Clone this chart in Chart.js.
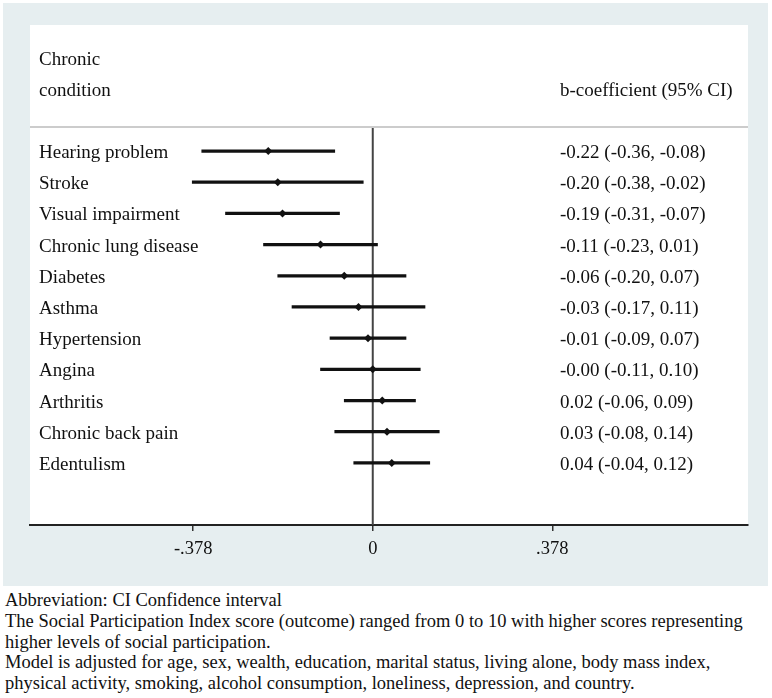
<!DOCTYPE html>
<html>
<head>
<meta charset="utf-8">
<script src="https://cdn.jsdelivr.net/npm/chart.js@4.4.1/dist/chart.umd.min.js"></script>
<style>
    body { margin: 0; background: #fff; font-family: "Liberation Serif", "Times New Roman", serif; color: #111; }
    #wrap { position: relative; width: 772px; height: 698px; }
    #panel { position: absolute; left: 3px; top: 3px; width: 765px; height: 583px; background: #e6eef0; }
    #forest { position: absolute; left: 0; top: 0; }
    .hdr { position: absolute; font-size: 19px; line-height: 20px; white-space: nowrap; }
    #notes { position: absolute; left: 5px; top: 590px; font-size: 18.5px; line-height: 20.8px; white-space: nowrap; color: #111; }
</style>
</head>
<body>
<div id="wrap">
    <div id="panel"></div>
    <canvas id="forest" width="772" height="590"></canvas>
    <div class="hdr" style="left:39px; top:49px;">Chronic</div>
    <div class="hdr" style="left:39px; top:80px;">condition</div>
    <div class="hdr" style="left:560px; top:80px;">b-coefficient (95% CI)</div>
    <div id="notes">
        Abbreviation: CI Confidence interval<br>
        The Social Participation Index score (outcome) ranged from 0 to 10 with higher scores representing<br>
        higher levels of social participation.<br>
        Model is adjusted for age, sex, wealth, education, marital status, living alone, body mass index,<br>
        physical activity, smoking, alcohol consumption, loneliness, depression, and country.
    </div>
</div>
<script>
    "use strict";

    // Forest plot data
    const conditions = ['Hearing problem', 'Stroke', 'Visual impairment', 'Chronic lung disease', 'Diabetes',
        'Asthma', 'Hypertension', 'Angina', 'Arthritis', 'Chronic back pain', 'Edentulism'];
    const coef = [-0.22, -0.20, -0.19, -0.11, -0.06, -0.03, -0.01, -0.00, 0.02, 0.03, 0.04];
    const lower = [-0.36, -0.38, -0.31, -0.23, -0.20, -0.17, -0.09, -0.11, -0.06, -0.08, -0.04];
    const upper = [-0.08, -0.02, -0.07, 0.01, 0.07, 0.11, 0.07, 0.10, 0.09, 0.14, 0.12];
    const ciLabels = ['-0.22 (-0.36, -0.08)', '-0.20 (-0.38, -0.02)', '-0.19 (-0.31, -0.07)', '-0.11 (-0.23, 0.01)',
        '-0.06 (-0.20, 0.07)', '-0.03 (-0.17, 0.11)', '-0.01 (-0.09, 0.07)', '-0.00 (-0.11, 0.10)',
        '0.02 (-0.06, 0.09)', '0.03 (-0.08, 0.14)', '0.04 (-0.04, 0.12)'];
    const xTicks = [-0.378, 0, 0.378];

    const serif = '"Liberation Serif", "Times New Roman", serif';
    const headerRow = -0.77; // y position of the rule under the column headers

    // White plotting panel, header rule, zero line and the CI text column
    const forestDecor = {
        id: 'forestDecor',
        beforeDraw(chart) {
            const { ctx, chartArea: a } = chart;
            ctx.save();
            ctx.fillStyle = '#ffffff';
            ctx.fillRect(a.left, a.top, a.right - a.left, a.bottom - a.top);
            ctx.restore();
        },
        beforeDatasetsDraw(chart) {
            const { ctx, chartArea: a, scales } = chart;
            const yHead = scales.y.getPixelForValue(headerRow);
            const x0 = scales.x.getPixelForValue(0);
            ctx.save();
            ctx.strokeStyle = '#cccccc';
            ctx.lineWidth = 2;
            ctx.beginPath();
            ctx.moveTo(a.left, yHead);
            ctx.lineTo(a.right, yHead);
            ctx.stroke();
            ctx.strokeStyle = '#444444';
            ctx.lineWidth = 2;
            ctx.beginPath();
            ctx.moveTo(x0, yHead + 1);
            ctx.lineTo(x0, a.bottom);
            ctx.stroke();
            ctx.restore();
        },
        afterDatasetsDraw(chart) {
            const { ctx, scales } = chart;
            ctx.save();
            ctx.font = '19px ' + serif;
            ctx.fillStyle = '#111111';
            ctx.textAlign = 'left';
            ctx.textBaseline = 'middle';
            ciLabels.forEach((txt, i) => {
                ctx.fillText(txt, 560, scales.y.getPixelForValue(i) + 2);
            });
            ctx.restore();
        }
    };

    const ctx = document.getElementById('forest');

    new Chart(ctx, {
        type: 'bar',
        data: {
            datasets: [
                {
                    type: 'scatter',
                    data: conditions.map((c, i) => ({ x: coef[i], y: i })),
                    pointStyle: 'rectRot',
                    pointRadius: 4,
                    backgroundColor: '#111111',
                    borderColor: '#111111',
                    borderWidth: 0
                },
                {
                    type: 'bar',
                    data: conditions.map((c, i) => ({ x: [lower[i], upper[i]], y: i })),
                    backgroundColor: '#111111',
                    borderWidth: 0,
                    barThickness: 2.6,
                    borderSkipped: false
                }
            ]
        },
        options: {
            indexAxis: 'y',
            responsive: false,
            animation: false,
            layout: { padding: { left: 30, right: 24, top: 25, bottom: 25 } },
            plugins: {
                legend: { display: false },
                tooltip: { enabled: false }
            },
            scales: {
                x: {
                    type: 'linear',
                    min: -0.7216,
                    max: 0.790,
                    afterBuildTicks: (axis) => { axis.ticks = xTicks.map(v => ({ value: v })); },
                    afterFit: (axis) => { axis.height = 40; },
                    grid: { drawOnChartArea: false, drawTicks: true, tickLength: 6, color: '#333333', lineWidth: 1.5 },
                    border: { display: true, color: '#222222', width: 2 },
                    ticks: {
                        autoSkip: false,
                        maxRotation: 0,
                        padding: 7,
                        color: '#111111',
                        font: { family: serif, size: 18.5 },
                        callback: (v) => v === 0 ? '0' : String(v).replace('0.', '.')
                    }
                },
                y: {
                    type: 'linear',
                    reverse: true,
                    offset: false,
                    min: -4.04,
                    max: 11.99,
                    afterBuildTicks: (axis) => { axis.ticks = conditions.map((c, i) => ({ value: i })); },
                    afterFit: (axis) => { axis.width = 0; },
                    grid: { display: false, offset: false },
                    border: { display: false },
                    ticks: {
                        mirror: true,
                        crossAlign: 'near',
                        padding: 9,
                        labelOffset: 2,
                        autoSkip: false,
                        color: '#111111',
                        font: { family: serif, size: 19 },
                        callback: (v) => conditions[v]
                    }
                }
            }
        },
        plugins: [forestDecor]
    });
</script>
</body>
</html>
